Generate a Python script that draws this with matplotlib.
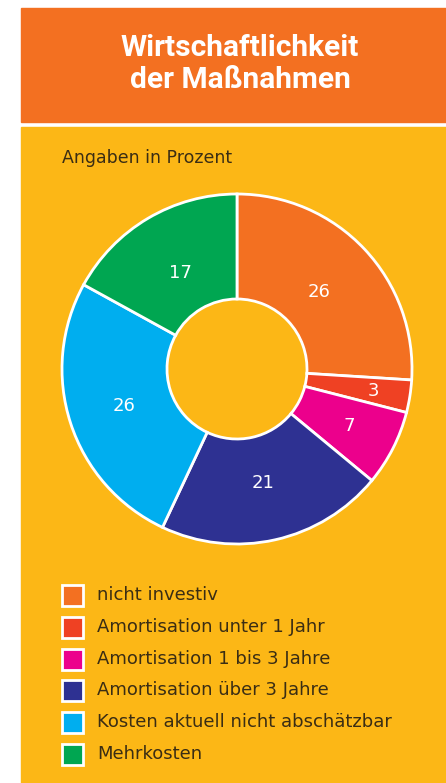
import numpy as np
import matplotlib.pyplot as plt
from matplotlib.patches import Rectangle

plt.rcParams['font.family'] = ['DejaVu Sans']

categories = ["nicht investiv", "Amortisation unter 1 Jahr", "Amortisation 1 bis 3 Jahre",
              "Amortisation über 3 Jahre", "Kosten aktuell nicht abschätzbar", "Mehrkosten"]
values = [26, 3, 7, 21, 26, 17]
colors = ["#F37021", "#EF4123", "#EC008C", "#2E3192", "#00AEEF", "#00A651"]

W, H = 446, 783
fig = plt.figure(figsize=(W / 100, H / 100), dpi=100)
fig.patch.set_facecolor("white")

# background panels, drawn in pixel coords (y from top)
bg = fig.add_axes([0, 0, 1, 1])
bg.set_xlim(0, W)
bg.set_ylim(H, 0)
bg.axis("off")
bg.add_patch(Rectangle((21, 8), W - 21, 114, color="#F37021"))
bg.add_patch(Rectangle((21, 127), W - 21, H - 127, color="#FCB716"))

bg.text(240, 64, "Wirtschaftlichkeit\nder Maßnahmen", color="white", fontsize=21.5,
        fontweight="bold", ha="center", va="center", linespacing=1.2, family="Roboto")
bg.text(62, 158, "Angaben in Prozent", color="#3a2d14", fontsize=12.5, va="center")

# legend
for i, (lab, c) in enumerate(zip(categories, colors)):
    y = 595 + i * 31.8
    bg.add_patch(Rectangle((62, y - 10), 21, 21, facecolor=c, edgecolor="white", lw=2))
    bg.text(97, y, lab, color="#3a2d14", fontsize=13, va="center")

# donut
cx, cy, r = 237, 369, 175
ax = fig.add_axes([(cx - r) / W, (H - cy - r) / H, 2 * r / W, 2 * r / H])
wedges, _ = ax.pie(values, colors=colors, startangle=90, counterclock=False,
                   wedgeprops=dict(width=0.60, edgecolor="white", linewidth=2))
for w in wedges:
    w.set_clip_on(False)
ax.set_xlim(-1, 1)
ax.set_ylim(-1, 1)
ax.set_aspect("equal")
ax.axis("off")

label_r = [0.64, 0.79, 0.72, 0.67, 0.68, 0.64]
for w, v, lr in zip(wedges, values, label_r):
    ang = np.deg2rad((w.theta1 + w.theta2) / 2)
    ax.text(lr * np.cos(ang), lr * np.sin(ang), str(v), color="white", fontsize=13,
            ha="center", va="center")

fig.savefig("out.png", dpi=100)
